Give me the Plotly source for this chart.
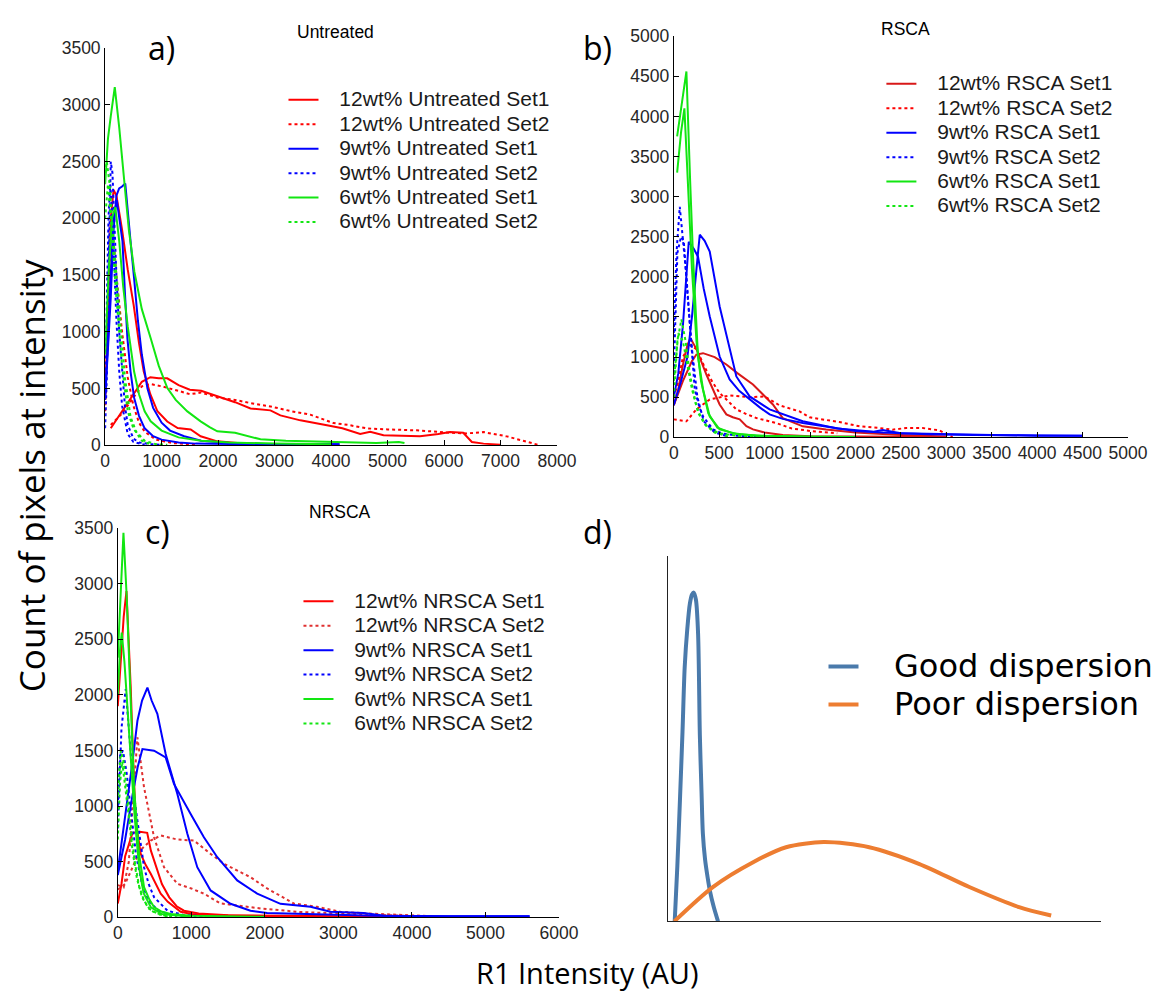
import plotly.graph_objects as go

# ---------------- Panel a) Untreated (x: intensity, y: count) ----------------
A_R1A_X = [0, 50, 100, 150, 200, 300, 400, 505, 600, 684, 800, 926, 1100, 1284, 1515, 1691, 1986, 2500, 3500]
A_R1A_Y = [400, 1200, 2000, 2250, 2200, 1900, 1550, 1237, 900, 651, 450, 300, 210, 152, 140, 80, 35, 15, 5]
A_R1B_X = [100, 300, 500, 650, 800, 950, 1100, 1300, 1500, 1700, 2000, 2300, 2574, 2927, 3103, 3456, 3927, 4200,
           4516, 4693, 4929, 5300, 5575, 5900, 6105, 6340, 6493, 6700, 7000]
A_R1B_Y = [150, 300, 450, 560, 600, 590, 590, 530, 490, 480, 430, 380, 325, 308, 264, 220, 176, 150,
           100, 120, 88, 85, 80, 100, 117, 111, 29, 15, 5]
A_R2A_X = [0, 50, 100, 150, 200, 300, 400, 500, 600, 700, 900, 1200, 1600]
A_R2A_Y = [300, 1200, 1900, 1800, 1500, 1000, 600, 350, 200, 120, 50, 20, 5]
A_R2B_X = [100, 300, 500, 650, 800, 1000, 1300, 1500, 1700, 2000, 2300, 2574, 2927, 3300, 3633, 4045, 4300, 4634,
           5000, 5516, 6105, 6400, 6694, 7110, 7400, 7699]
A_R2B_Y = [180, 280, 420, 520, 540, 520, 480, 450, 465, 420, 400, 372, 343, 300, 270, 196, 180, 149,
           140, 132, 111, 105, 117, 79, 40, 0]
A_B1A_X = [0, 50, 100, 150, 207, 250, 307, 350, 395, 450, 513, 600, 700, 850, 1000, 1300, 1600, 2500, 4150]
A_B1A_Y = [450, 900, 1500, 2000, 2160, 2000, 1800, 1350, 940, 650, 420, 260, 150, 80, 50, 25, 15, 10, 10]
A_B1B_X = [0, 50, 100, 150, 200, 248, 300, 357, 400, 450, 513, 580, 650, 750, 850, 1000, 1150, 1400, 1700, 2200,
           3000, 4150]
A_B1B_Y = [400, 800, 1300, 1900, 2200, 2263, 2280, 2307, 2100, 1800, 1471, 1100, 800, 500, 330, 200, 130, 80, 40, 20,
           10, 10]
A_B2A_X = [0, 30, 60, 100, 130, 160, 200, 250, 300, 350, 400, 500, 600, 800, 1000]
A_B2A_Y = [150, 600, 1500, 2500, 2400, 2000, 1500, 1000, 650, 350, 180, 60, 25, 10, 5]
A_B2B_X = [0, 30, 60, 90, 120, 160, 200, 250, 300, 400, 500, 700]
A_B2B_Y = [500, 1200, 2000, 2300, 2100, 1600, 1100, 650, 350, 100, 30, 5]
A_G1A_X = [0, 50, 100, 171, 250, 341, 420, 518, 650, 807, 950, 1102, 1250, 1456, 1691, 1850, 1986, 2300, 2751,
           3200, 4000, 4800, 5200, 5300]
A_G1A_Y = [2300, 2700, 2900, 3157, 2800, 2321, 1900, 1530, 1200, 944, 700, 504, 400, 299, 211, 160, 123, 110, 53,
           40, 30, 20, 30, 20]
A_G1B_X = [0, 60, 120, 180, 250, 320, 400, 513, 600, 700, 807, 1000, 1300, 1700, 2200, 3000, 4000]
A_G1B_Y = [800, 1500, 2000, 2100, 1800, 1400, 1050, 650, 450, 300, 211, 130, 70, 40, 25, 15, 10]
A_G2A_X = [0, 30, 80, 150, 250, 350, 450, 550, 700, 900, 1100]
A_G2A_Y = [2400, 2500, 2300, 1800, 1200, 600, 250, 120, 40, 10, 5]
A_G2B_X = [0, 50, 100, 200, 300, 400, 500, 650, 800]
A_G2B_Y = [2000, 2300, 2000, 1300, 700, 300, 150, 40, 10]

# ---------------- Panel b) RSCA ----------------
B_R1A_X = [0, 50, 100, 150, 183, 250, 359, 430, 505, 579, 650, 726, 800, 872, 1000, 1200, 1500, 2000, 3000]
B_R1A_Y = [400, 600, 900, 1150, 1235, 1100, 783, 600, 410, 286, 250, 224, 140, 99, 60, 30, 15, 10, 5]
B_R1B_X = [0, 100, 200, 249, 322, 450, 579, 700, 872, 981, 1091, 1200, 1420, 1677, 2000, 2500, 3000]
B_R1B_Y = [400, 700, 950, 1032, 1049, 1000, 908, 800, 659, 535, 410, 240, 137, 97, 60, 30, 10]
B_R2A_X = [0, 139, 249, 396, 615, 835, 1000, 1165, 1385, 1494, 1824, 2044, 2264, 2407, 2557, 2740, 2923, 3070]
B_R2A_Y = [224, 200, 348, 473, 522, 500, 510, 398, 323, 249, 190, 137, 116, 95, 116, 116, 87, 0]
B_R2B_X = [0, 50, 100, 180, 250, 330, 420, 505, 600, 689, 800, 909, 1128, 1300, 1500, 1800]
B_R2B_Y = [500, 700, 1000, 1150, 1100, 900, 700, 551, 450, 348, 290, 240, 178, 110, 80, 50]
B_B1A_X = [0, 50, 102, 140, 165, 220, 267, 330, 396, 505, 615, 720, 835, 950, 1055, 1200, 1420, 1700, 2000, 2300,
           2800, 3300, 4000, 4500]
B_B1A_Y = [500, 800, 1418, 2100, 2438, 2350, 2251, 1850, 1505, 1007, 721, 580, 473, 370, 286, 230, 178, 130, 80, 60,
           40, 30, 20, 20]
B_B1B_X = [0, 80, 150, 200, 250, 286, 340, 396, 505, 615, 689, 835, 1055, 1420, 1800, 2200, 2300, 2500, 3000, 3300,
           3600, 4000, 4500]
B_B1B_Y = [400, 700, 1000, 1500, 2100, 2525, 2450, 2314, 1630, 1095, 759, 510, 348, 200, 110, 70, 90, 50, 40, 40,
           30, 20, 20]
B_B2A_X = [0, 30, 66, 100, 140, 176, 231, 280, 322, 432, 530, 700, 1000]
B_B2A_Y = [1300, 2300, 2874, 2500, 2000, 1421, 600, 380, 261, 100, 50, 20, 5]
B_B2B_X = [0, 40, 80, 110, 150, 200, 260, 330, 450, 600]
B_B2B_Y = [800, 2300, 2500, 2450, 1800, 1100, 500, 200, 60, 10]
B_G1A_X = [37, 90, 139, 180, 212, 267, 322, 396, 505, 700, 1000, 1500, 2000]
B_G1A_Y = [3750, 4200, 4560, 3200, 2250, 1000, 600, 260, 100, 40, 20, 10, 5]
B_G1B_X = [37, 80, 117, 160, 200, 250, 300, 380, 480, 650, 900, 1500]
B_G1B_Y = [3300, 3800, 4100, 3000, 2100, 1200, 700, 300, 120, 50, 20, 5]
B_G2A_X = [0, 40, 84, 130, 176, 249, 300, 359, 430, 505, 700, 1000]
B_G2A_Y = [500, 1200, 1468, 1200, 796, 385, 250, 150, 90, 50, 20, 5]
B_G2B_X = [0, 50, 100, 150, 200, 270, 350, 450, 600]
B_G2B_Y = [700, 1300, 1200, 900, 600, 300, 150, 60, 10]

# ---------------- Panel c) NRSCA ----------------
C_R1A_X = [0, 40, 80, 118, 150, 176, 210, 244, 312, 380, 448, 520, 584, 680, 764, 855, 1000, 1300, 2000, 3000]
C_R1A_Y = [1900, 2300, 2700, 2934, 2500, 2067, 1400, 870, 571, 470, 392, 300, 213, 140, 93, 50, 30, 20, 10, 5]
C_R1B_X = [0, 50, 100, 150, 200, 300, 400, 450, 520, 600, 700, 800, 900, 1100, 1500, 2000, 3000, 4000]
C_R1B_Y = [125, 300, 550, 650, 760, 770, 760, 600, 450, 300, 180, 100, 60, 35, 20, 15, 10, 5]
C_R2A_X = [0, 80, 150, 200, 267, 357, 493, 629, 810, 1000, 1171, 1398, 1941, 2484, 3163, 4068]
C_R2A_Y = [290, 270, 500, 1000, 1618, 1169, 720, 451, 302, 260, 213, 125, 80, 48, 30, 10]
C_R2B_X = [0, 100, 200, 300, 448, 584, 810, 1035, 1262, 1450, 1669, 1805, 2031, 2393, 2710, 3027, 3389, 3842, 4294]
C_R2B_Y = [250, 300, 450, 600, 691, 736, 700, 691, 571, 480, 406, 361, 260, 125, 95, 50, 35, 20, 10]
C_B1A_X = [0, 100, 200, 267, 330, 403, 460, 538, 651, 810, 946, 1081, 1262, 1533, 1805, 2031, 2500, 3000, 3500, 4500,
           5600]
C_B1A_Y = [420, 900, 1400, 1768, 1950, 2067, 1950, 1830, 1469, 1110, 751, 451, 242, 122, 60, 40, 30, 20, 15, 10, 10]
C_B1B_X = [0, 100, 200, 270, 335, 493, 651, 764, 991, 1171, 1353, 1624, 1896, 2212, 2620, 2891, 3344, 3620, 4500,
           5600]
C_B1B_Y = [380, 700, 1100, 1350, 1514, 1499, 1439, 1200, 930, 721, 541, 332, 213, 122, 95, 50, 40, 15, 10, 10]
C_B2A_X = [0, 50, 108, 140, 176, 220, 267, 310, 357, 420, 493, 676, 900, 1300]
C_B2A_Y = [800, 1700, 2052, 1800, 1469, 1100, 870, 650, 451, 300, 182, 60, 20, 5]
C_B2B_X = [0, 30, 70, 120, 180, 250, 330, 420, 550, 750, 1000]
C_B2B_Y = [1000, 1450, 1500, 1300, 950, 550, 300, 150, 60, 20, 5]
C_G1A_X = [0, 40, 77, 120, 153, 190, 221, 289, 357, 430, 493, 600, 718, 1000, 2000]
C_G1A_Y = [2336, 2900, 3458, 2900, 2368, 1700, 1169, 571, 272, 160, 93, 50, 30, 15, 5]
C_G1B_X = [0, 30, 54, 90, 130, 176, 230, 290, 350, 450, 600, 1000]
C_G1B_Y = [2000, 2400, 2560, 2300, 1900, 1470, 900, 450, 220, 90, 30, 5]
C_G2A_X = [0, 41, 80, 120, 176, 230, 290, 357, 450, 600, 800]
C_G2A_Y = [1100, 1499, 1400, 1150, 800, 500, 280, 150, 60, 20, 5]
C_G2B_X = [0, 30, 60, 100, 150, 200, 260, 330, 420, 550, 700]
C_G2B_Y = [700, 1200, 1400, 1200, 900, 600, 350, 180, 80, 30, 5]

# ---------------- Panel d) schematic (arbitrary units 0-100) ----------------
D_GOOD_X = [1.6, 2.2, 2.8, 3.4, 3.9, 4.5, 5.1, 5.6, 6.0, 6.5, 7.0, 7.4, 7.8, 8.1, 8.6, 9.2, 9.7, 10.6, 11.6]
D_GOOD_Y = [0, 15, 33, 52, 69.5, 80, 87, 89.5, 90, 88, 78.6, 51, 35, 24, 17, 12, 8.5, 4, 0]
D_POOR_X = [1.5, 10.4, 19.7, 27.3, 36.0, 46.5, 58.1, 69.6, 81.1, 88.5]
D_POOR_Y = [0, 9.4, 16.2, 20.3, 21.7, 20.3, 15.7, 9.4, 3.9, 1.6]

# Legend labels
A_LABELS = ["12wt% Untreated Set1", "12wt% Untreated Set2", "9wt% Untreated Set1",
            "9wt% Untreated Set2", "6wt% Untreated Set1", "6wt% Untreated Set2"]
B_LABELS = ["12wt% RSCA Set1", "12wt% RSCA Set2", "9wt% RSCA Set1",
            "9wt% RSCA Set2", "6wt% RSCA Set1", "6wt% RSCA Set2"]
C_LABELS = ["12wt% NRSCA Set1", "12wt% NRSCA Set2", "9wt% NRSCA Set1",
            "9wt% NRSCA Set2", "6wt% NRSCA Set1", "6wt% NRSCA Set2"]
D_LABELS = ["Good dispersion", "Poor dispersion"]

RED, BLUE, GREEN = "#ff0000", "#0000ff", "#12e612"
ARIAL = "Liberation Sans, Arial, sans-serif"
CAL = "Open Sans, sans-serif"
DJV = "DejaVu Sans, sans-serif"


# pixel position (in the 1174x1001 picture) -> paper fraction (compensates rendering offset/scale)
def fx(px):
    return (px - 4.0) / 0.9805 / 1174


def fy(py):
    return 1 - (py - 7.8) / 0.982 / 1001


fig = go.Figure()


def add_panel(xa, ya, leg, labels, series, colors):
    dashes = ["solid", "dot", "solid", "dot", "solid", "dot"]
    for i, curves in enumerate(series):
        for j, (x, y) in enumerate(curves):
            fig.add_trace(go.Scatter(
                x=x, y=y, mode="lines", xaxis=xa, yaxis=ya, legend=leg,
                name='<span style="font-size:21px">\u00a0\u00a0\u2009' + labels[i] + "</span>",
                showlegend=(j == 0), hoverinfo="skip",
                line=dict(color=colors[i], width=2, dash=dashes[i])))


add_panel("x", "y", "legend", A_LABELS,
          [[(A_R1A_X, A_R1A_Y), (A_R1B_X, A_R1B_Y)], [(A_R2A_X, A_R2A_Y), (A_R2B_X, A_R2B_Y)],
           [(A_B1A_X, A_B1A_Y), (A_B1B_X, A_B1B_Y)], [(A_B2A_X, A_B2A_Y), (A_B2B_X, A_B2B_Y)],
           [(A_G1A_X, A_G1A_Y), (A_G1B_X, A_G1B_Y)], [(A_G2A_X, A_G2A_Y), (A_G2B_X, A_G2B_Y)]],
          [RED, RED, BLUE, BLUE, GREEN, GREEN])
add_panel("x2", "y2", "legend2", B_LABELS,
          [[(B_R1A_X, B_R1A_Y), (B_R1B_X, B_R1B_Y)], [(B_R2A_X, B_R2A_Y), (B_R2B_X, B_R2B_Y)],
           [(B_B1A_X, B_B1A_Y), (B_B1B_X, B_B1B_Y)], [(B_B2A_X, B_B2A_Y), (B_B2B_X, B_B2B_Y)],
           [(B_G1A_X, B_G1A_Y), (B_G1B_X, B_G1B_Y)], [(B_G2A_X, B_G2A_Y), (B_G2B_X, B_G2B_Y)]],
          ["#d81818", RED, BLUE, BLUE, GREEN, GREEN])
add_panel("x3", "y3", "legend3", C_LABELS,
          [[(C_R1A_X, C_R1A_Y), (C_R1B_X, C_R1B_Y)], [(C_R2A_X, C_R2A_Y), (C_R2B_X, C_R2B_Y)],
           [(C_B1A_X, C_B1A_Y), (C_B1B_X, C_B1B_Y)], [(C_B2A_X, C_B2A_Y), (C_B2B_X, C_B2B_Y)],
           [(C_G1A_X, C_G1A_Y), (C_G1B_X, C_G1B_Y)], [(C_G2A_X, C_G2A_Y), (C_G2B_X, C_G2B_Y)]],
          [RED, "#e03030", BLUE, BLUE, GREEN, GREEN])

for x, y, lab, col in [(D_GOOD_X, D_GOOD_Y, D_LABELS[0], "#4a7aab"),
                       (D_POOR_X, D_POOR_Y, D_LABELS[1], "#ed7d31")]:
    fig.add_trace(go.Scatter(
        x=x, y=y, mode="lines", xaxis="x4", yaxis="y4", legend="legend4",
        name='<span style="font-size:32px">\u00a0\u00a0\u00a0' + lab + "</span>",
        hoverinfo="skip", line=dict(color=col, width=4, shape="spline", smoothing=0.8)))


def ax(domain, anchor, rng, dtick, show=True):
    d = dict(domain=domain, anchor=anchor, range=rng, showgrid=False, zeroline=False,
             showline=True, linecolor="#000000", linewidth=1, mirror=False)
    if show:
        d.update(dtick=dtick, ticks="inside", ticklen=5, tickcolor="#000000",
                 tickfont=dict(family=ARIAL, size=17.5, color="#262626"))
    else:
        d.update(showticklabels=False, ticks="", linecolor="#222222")
    return d


LEGFONT = dict(family=ARIAL, size=16.5, color="#1a1a1a")
fig.update_layout(
    width=1174, height=1001, margin=dict(l=0, r=0, t=0, b=0),
    paper_bgcolor="white", plot_bgcolor="white", showlegend=True,
    xaxis=ax([fx(104.3), fx(557)], "y", [0, 8000], 1000),
    yaxis=ax([fy(444), fy(46)], "x", [0, 3500], 500),
    xaxis2=ax([fx(674), fx(1129)], "y2", [0, 5000], 500),
    yaxis2=ax([fy(436), fy(34)], "x2", [0, 5000], 500),
    xaxis3=ax([fx(117), fx(559)], "y3", [0, 6000], 1000),
    yaxis3=ax([fy(917), fy(527)], "x3", [0, 3500], 500),
    xaxis4=ax([fx(668), fx(1102)], "y4", [0, 100], None, show=False),
    yaxis4=ax([fy(921), fy(555)], "x4", [0, 100], None, show=False),
    legend=dict(x=fx(283), y=fy(80.5), xanchor="left", yanchor="top",
                bgcolor="rgba(0,0,0,0)", font=LEGFONT),
    legend2=dict(x=fx(882), y=fy(64.5), xanchor="left", yanchor="top",
                 bgcolor="rgba(0,0,0,0)", font=LEGFONT),
    legend3=dict(x=fx(298), y=fy(583), xanchor="left", yanchor="top",
                 bgcolor="rgba(0,0,0,0)", font=LEGFONT),
    legend4=dict(x=fx(824), y=fy(641.5), xanchor="left", yanchor="top",
                 bgcolor="rgba(0,0,0,0)", font=dict(family=DJV, size=27, color="#000000")),
)

ann = [
    ("a)", 161, 45, 32, CAL), ("b)", 598, 45, 32, CAL), ("c)", 157, 530, 32, CAL), ("d)", 598, 530, 32, CAL),
    ("Untreated", 335, 30, 17.5, ARIAL), ("RSCA", 906, 27, 17.5, ARIAL), ("NRSCA", 340, 511, 17.5, ARIAL),
    ("R1 Intensity (AU)", 587, 972, 29, CAL),
]
for text, px, py, size, fam in ann:
    fig.add_annotation(text=text, x=fx(px), y=fy(py), xref="paper", yref="paper",
                       showarrow=False, xanchor="center", yanchor="middle",
                       font=dict(family=fam, size=size, color="#000000"))
fig.add_annotation(text="Count of pixels at intensity", x=fx(30), y=fy(474), xref="paper",
                   yref="paper", showarrow=False, textangle=-90, xanchor="center", yanchor="middle",
                   font=dict(family=CAL, size=35, color="#000000"))

fig.write_html("out.html")
